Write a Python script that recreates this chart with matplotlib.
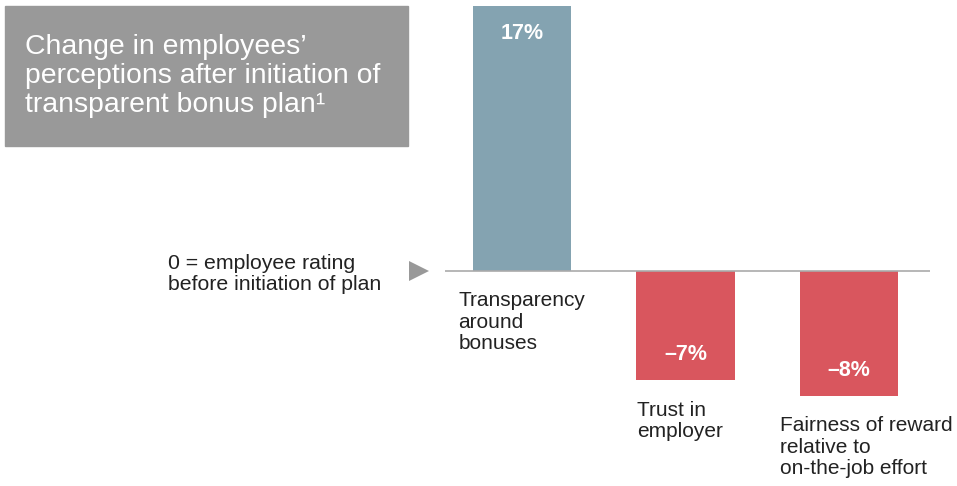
import matplotlib.pyplot as plt
from matplotlib.patches import Rectangle

plt.rcParams['font.family'] = ['Liberation Sans', 'DejaVu Sans']

# data
categories = ['Transparency\naround\nbonuses', 'Trust in\nemployer',
              'Fairness of reward\nrelative to\non-the-job effort']
values = [17, -7, -8]
value_labels = ['17%', '\u20137%', '\u20138%']
bar_colors = ['#84a3b1', '#d9565e', '#d9565e']
label_dx = [-0.39, -0.294, -0.42]   # label left edge relative to bar centre

W, H = 957, 486
fig = plt.figure(figsize=(W / 100, H / 100), dpi=100)
text_color = '#222222'

def fx(px):
    return px / W

def fy(py):
    return 1 - py / H

# axes: x from 445px to 930px, full height
ax = fig.add_axes([fx(445), 0, fx(930) - fx(445), 1])
ax.set_xlim(-0.471, 2.495)
ax.set_ylim(-13.78, 17.37)
ax.axis('off')

x = range(len(values))
ax.bar(x, values, width=0.6, color=bar_colors, zorder=2)
ax.axhline(0, color='#aaaaaa', lw=1.2, zorder=3)

# value labels
for i, v in enumerate(values):
    if v > 0:
        ypos = v - 1.75
    else:
        ypos = v + 1.65
    ax.text(i, ypos, value_labels[i], ha='center', va='center',
            color='white', fontsize=15.5, fontweight='bold')

# category labels under the baseline / bars
for i, (v, lab) in enumerate(zip(values, categories)):
    top = min(v, 0) - 1.3
    ax.text(i + label_dx[i], top, lab, ha='left', va='top', color=text_color,
            fontsize=15, linespacing=1.17)

# zero marker
ax.plot([-0.63], [0], marker='>', markersize=15, color='#999999',
        clip_on=False, zorder=4, markeredgewidth=0)
fig.text(fx(168), fy(274), '0 = employee rating\nbefore initiation of plan',
         ha='left', va='center', color=text_color, fontsize=15.3, linespacing=1.17)

# title box
fig.patches.append(Rectangle((fx(5), fy(146)), fx(408) - fx(5), fy(6) - fy(146),
                             transform=fig.transFigure, color='#999999', zorder=0))
fig.text(fx(25), fy(76), 'Change in employees\u2019\nperceptions after initiation of\ntransparent bonus plan\u00b9',
         ha='left', va='center', color='white', fontsize=20.4, linespacing=1.13)

fig.savefig('out.png', dpi=100)
